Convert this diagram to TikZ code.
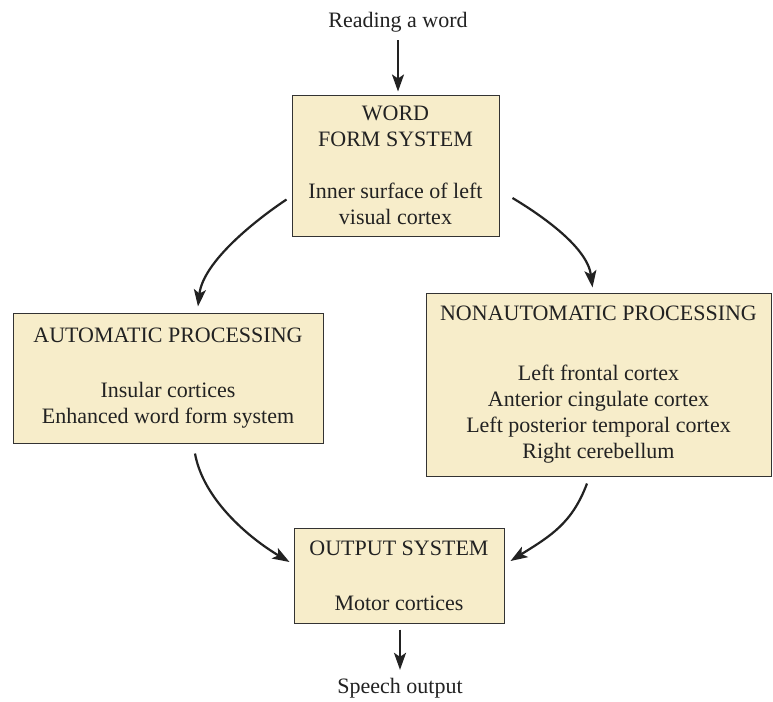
\documentclass[tikz,border=0pt]{standalone}
\usepackage{fontspec}
\setmainfont{Liberation Serif}
\usetikzlibrary{arrows.meta}
\definecolor{boxfill}{HTML}{F7EDCA}
\definecolor{boxline}{HTML}{333333}
\definecolor{inktext}{HTML}{222222}
\tikzset{
  stagebox/.style={draw=boxline, fill=boxfill, line width=1pt, align=center, inner sep=0pt,
    text=inktext, font=\fontsize{22}{26}\selectfont},
  plainlabel/.style={inner sep=0pt, text=inktext, font=\fontsize{22}{26}\selectfont},
  flow/.style={draw=inktext, line width=2.2pt, -{Stealth[length=17pt,width=12pt,inset=4pt]}},
}
\begin{document}
\begin{tikzpicture}[x=1pt,y=-1pt]
\useasboundingbox (0,0) rectangle (773,701);
\fill[white] (0,0) rectangle (773,701);

\node[plainlabel] (read) at (398,22) {Reading a word};
\node[stagebox, minimum width=207pt, minimum height=141pt] (word) at (395.5,165.5)
  {WORD\\FORM SYSTEM\\[26pt]Inner surface of left\\visual cortex};
\node[stagebox, minimum width=310pt, minimum height=130pt] (auto) at (168,378)
  {AUTOMATIC PROCESSING\\[29pt]Insular cortices\\Enhanced word form system};
\node[stagebox, minimum width=345pt, minimum height=183pt] (nonauto) at (598.5,384.5)
  {NONAUTOMATIC PROCESSING\\[34pt]Left frontal cortex\\Anterior cingulate cortex\\Left posterior temporal cortex\\Right cerebellum};
\node[stagebox, minimum width=210pt, minimum height=95pt] (out) at (399,575.5)
  {OUTPUT SYSTEM\\[29pt]Motor cortices};
\node[plainlabel] (speech) at (400,688) {Speech output};

\coordinate (readtip) at (read.south |- word.north);
\coordinate (speechtop) at (out.south -| speech.north);
\draw[flow] ([shift={(0,8)}]read.south) -- ([shift={(0,-3)}]readtip);
\draw[flow] ([shift={(0,6)}]speechtop) -- ([shift={(0,-8)}]speech.north);

\draw[flow] ([shift={(-5,34)}]word.west) .. controls +(-30,20) and +(5,-45) .. ([shift={(30,-6)}]auto.north);
\draw[flow] ([shift={(13,32.5)}]word.east) .. controls +(30,18) and +(-5,-40) .. ([shift={(-6,-5)}]nonauto.north);
\draw[flow] ([shift={(27,10)}]auto.south) .. controls +(8,45) and +(-42,-25) .. ([shift={(-4,-13.5)}]out.west);
\draw[flow] ([shift={(-11.5,7)}]nonauto.south) .. controls +(-15,40) and +(40,-25) .. ([shift={(6,-14.5)}]out.east);
\end{tikzpicture}
\end{document}
